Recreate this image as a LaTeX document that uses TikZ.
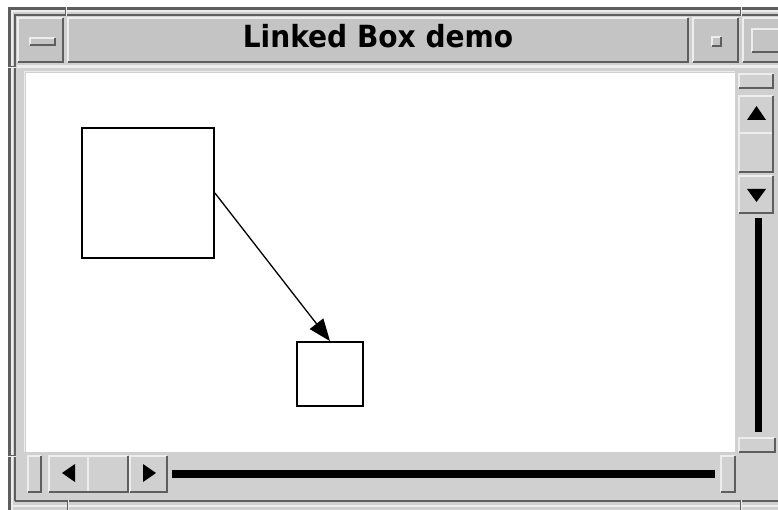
\documentclass[tikz,border=0pt]{standalone}
\usepackage{fontspec}
\usetikzlibrary{arrows.meta}
\newfontfamily\titlefont{DejaVu Sans}
\definecolor{wbg}{HTML}{D0D0D0}
\definecolor{wface}{HTML}{C4C4C4}
\definecolor{wdark}{HTML}{5E5E5E}
\definecolor{wlight}{HTML}{EDEDED}
% raised Motif-style bevel: face colour, x1, y1, x2, y2
\newcommand{\wbevel}[5]{%
  \fill[#1] (#2,#3) rectangle (#4,#5);
  \draw[wlight, line width=2] (#2+1,#5-1) -- (#2+1,#3+1) -- (#4-1,#3+1);
  \draw[wdark, line width=2] (#2+1,#5-1) -- (#4-1,#5-1) -- (#4-1,#3+1);
}
\begin{document}
\begin{tikzpicture}[x=1pt, y=-1pt,
  bigbox/.style={draw, line width=1.8, inner sep=0, minimum width=132, minimum height=130},
  smallbox/.style={draw, line width=1.8, inner sep=0, minimum width=66, minimum height=64},
  link/.style={line width=1.3, -{Triangle[length=22pt, width=17pt]}},
  arrowglyph/.style={fill=black}]
\useasboundingbox (0,0) rectangle (778,510);
\clip (0,0) rectangle (778,510);
\fill[white] (0,0) rectangle (778,510);

% window frame
\fill[wbg] (8,7) rectangle (790,520);
\draw[wdark, line width=3] (9.5,520) -- (9.5,8.5) -- (790,8.5);
\draw[wlight, line width=2] (12,520) -- (12,11) -- (790,11);
\draw[wdark, line width=2] (15,501) -- (15,15.5) -- (790,15.5);
\draw[wdark, line width=2] (15,501) -- (790,501);
\draw[wlight, line width=2] (12,506) -- (790,506);
% resize corner marks
\foreach \cx in {65,740} {
  \draw[wdark, line width=1] (\cx,7) -- (\cx,16);
  \draw[wlight, line width=1] (\cx+1,7) -- (\cx+1,16);
}
\foreach \cx in {67,740} {
  \draw[wdark, line width=1] (\cx,500) -- (\cx,510);
  \draw[wlight, line width=1] (\cx+1,500) -- (\cx+1,510);
}
\foreach \cy in {67,455} {
  \draw[wdark, line width=1] (8,\cy) -- (16,\cy);
  \draw[wlight, line width=1] (8,\cy+1) -- (16,\cy+1);
}

% title bar
\wbevel{wface}{17}{17}{64}{63}
\wbevel{wface}{29}{37}{56}{46}
\wbevel{wface}{67}{17}{689}{63}
\wbevel{wface}{692}{17}{739}{63}
\wbevel{wface}{711}{36}{722}{47}
\wbevel{wface}{742}{17}{795}{63}
\wbevel{wface}{751}{28}{795}{53}
\node[font=\titlefont\bfseries\fontsize{30.5}{36}\selectfont, anchor=base, inner sep=0, xscale=0.92] (title) at (378,48) {Linked Box demo};
\draw[wlight, line width=3] (17,66.5) -- (790,66.5);

% drawing area
\fill[white] (26,73) rectangle (735,452);
\draw[wlight, line width=1.5] (24.5,452) -- (24.5,71.5) -- (735,71.5);

% vertical scrollbar
\wbevel{wbg}{738}{73}{774}{89}
\wbevel{wbg}{738}{95}{774}{173}
\draw[wlight, line width=2] (740,133) -- (772,133);
\wbevel{wbg}{738}{175}{774}{214}
\fill[arrowglyph] (756.5,106) -- (766,120) -- (747,120) -- cycle;
\fill[arrowglyph] (747,189) -- (766,189) -- (756.5,202) -- cycle;
\fill[black] (755,218) rectangle (762,432);
\wbevel{wbg}{738}{437}{776}{453}

% horizontal scrollbar
\wbevel{wbg}{27}{455}{42}{493}
\wbevel{wbg}{48}{455}{129}{493}
\draw[wlight, line width=2] (88,457) -- (88,491);
\wbevel{wbg}{129}{455}{168}{493}
\fill[arrowglyph] (62,473) -- (75,464) -- (75,482) -- cycle;
\fill[arrowglyph] (143,464) -- (156,473) -- (143,482) -- cycle;
\fill[black] (172,470) rectangle (715,478);
\wbevel{wbg}{720}{455}{736}{493}

% linked boxes
\node[bigbox] (src) at (148,193) {};
\node[smallbox] (dst) at (330,374) {};
\draw[link] (src.east) -- (dst.north);
\end{tikzpicture}
\end{document}
